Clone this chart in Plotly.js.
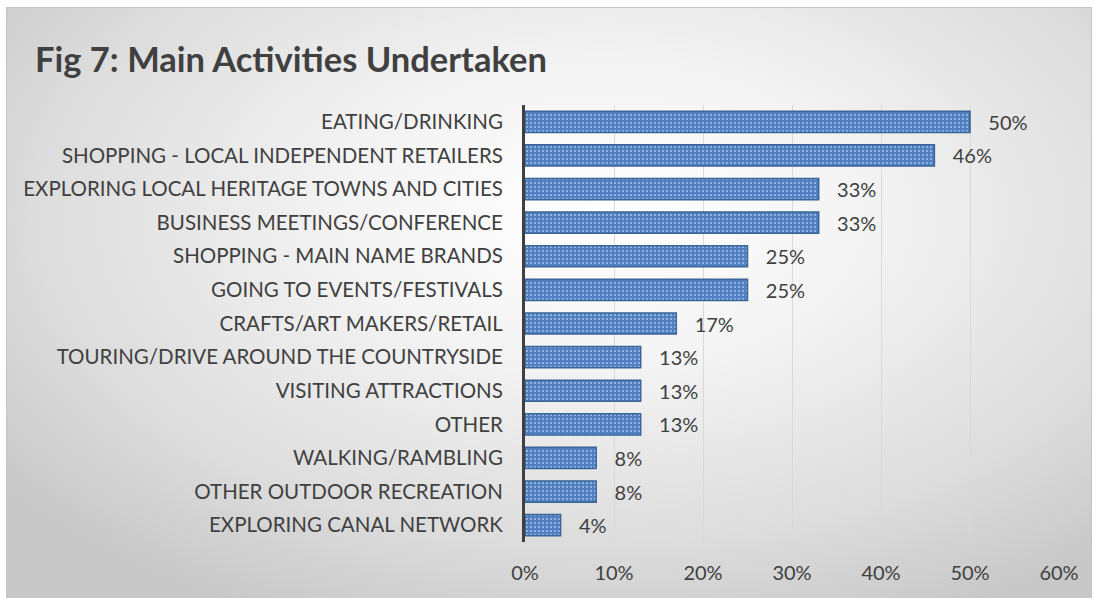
<!DOCTYPE html>
<html>
<head>
<meta charset="utf-8">
<script src="https://cdn.plot.ly/plotly-3.0.1.min.js"></script>
<style>
  html, body { margin:0; padding:0; background:#ffffff; }
  #frame { position:absolute; left:6px; top:7px; width:1084px; height:591px;
    border-top:1px solid #c4c4c4; border-left:1px solid #c4c4c4; border-right:1px solid #c4c4c4;
    background: radial-gradient(ellipse 70% 75% at 55% 35%, #ffffff 0%, #f3f3f3 35%, #dcdcdc 75%, #c8c8c8 100%); }
  #chart { position:absolute; left:0; top:0; width:1096px; height:598px; }
</style>
</head>
<body>
<div id="frame"></div>
<div id="chart"></div>
<script>
const categories = [
  "EATING/DRINKING",
  "SHOPPING - LOCAL INDEPENDENT RETAILERS",
  "EXPLORING LOCAL HERITAGE TOWNS AND CITIES",
  "BUSINESS MEETINGS/CONFERENCE",
  "SHOPPING - MAIN NAME BRANDS",
  "GOING TO EVENTS/FESTIVALS",
  "CRAFTS/ART MAKERS/RETAIL",
  "TOURING/DRIVE AROUND THE COUNTRYSIDE",
  "VISITING ATTRACTIONS",
  "OTHER",
  "WALKING/RAMBLING",
  "OTHER OUTDOOR RECREATION",
  "EXPLORING CANAL NETWORK"
];
const values = [0.50, 0.46, 0.33, 0.33, 0.25, 0.25, 0.17, 0.13, 0.13, 0.13, 0.08, 0.08, 0.04];
const xTickVals = [0, 0.1, 0.2, 0.3, 0.4, 0.5, 0.6];
const xTickText = ["0%", "10%", "20%", "30%", "40%", "50%", "60%"];

const font = "Lato, 'Open Sans', sans-serif";

const trace = {
  type: "bar",
  orientation: "h",
  y: categories,
  x: values,
  text: values.map(v => "\u00a0\u00a0\u00a0" + Math.round(v * 100) + "%"),
  textposition: "outside",
  constraintext: "none",
  cliponaxis: false,
  textfont: { family: font, size: 20, color: "#404040" },
  marker: {
    color: "#4f81bd",
    line: { color: "#3a6596", width: 1.5 },
    pattern: { shape: ".", bgcolor: "#5080c2", fgcolor: "#a4bfe4", size: 4, solidity: 0.22 }
  },
  hoverinfo: "none"
};

const layout = {
  width: 1096, height: 598,
  paper_bgcolor: "rgba(0,0,0,0)",
  plot_bgcolor: "rgba(0,0,0,0)",
  margin: { l: 525, r: 37, t: 105, b: 56 },
  showlegend: false,
  bargap: 0.37,
  title: {
    text: "<b>Fig 7: Main Activities Undertaken</b>",
    font: { family: font, size: 34.5, color: "#404040" },
    x: 35 / 1096, xref: "container", xanchor: "left",
    y: 1, yref: "container", yanchor: "top",
    pad: { t: 48, l: 0 }
  },
  xaxis: {
    range: [0, 0.6],
    tickvals: xTickVals,
    ticktext: xTickText,
    showgrid: true,
    gridcolor: "#d9d9d9",
    gridwidth: 1,
    zeroline: false,
    showline: false,
    ticks: "",
    ticklabelstandoff: 17,
    tickfont: { family: font, size: 20, color: "#404040" },
    fixedrange: true
  },
  yaxis: {
    autorange: "reversed",
    showgrid: false,
    zeroline: false,
    showline: true,
    linecolor: "#404040",
    linewidth: 3,
    ticks: "",
    ticklabelstandoff: 15,
    tickfont: { family: font, size: 20.5, color: "#404040" },
    fixedrange: true
  }
};

Plotly.newPlot("chart", [trace], layout, { displayModeBar: false, staticPlot: true });
</script>
</body>
</html>
